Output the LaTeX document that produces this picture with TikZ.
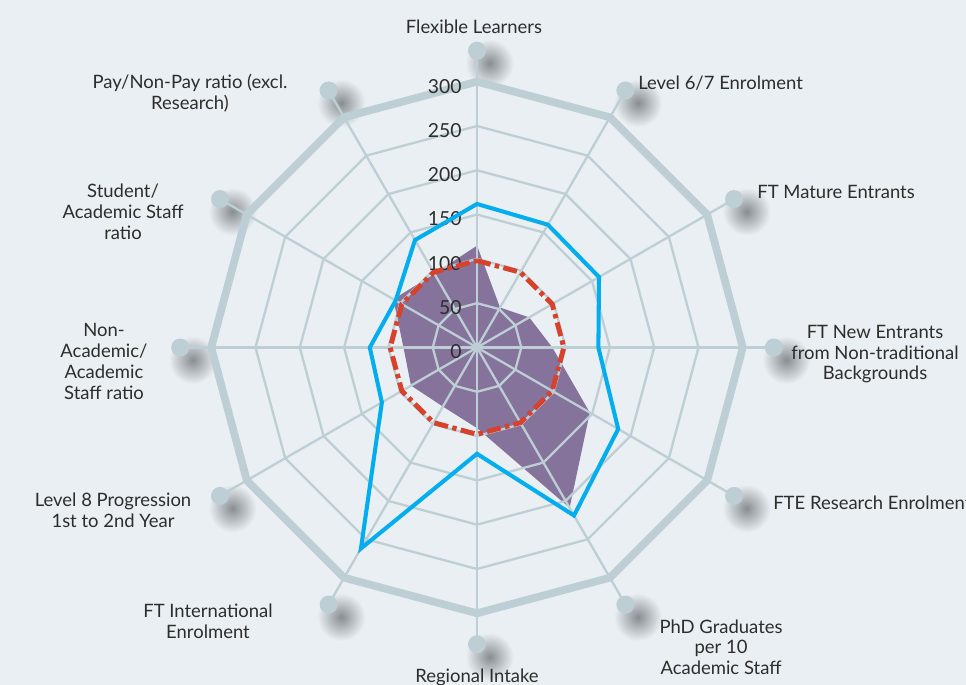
\documentclass[tikz,border=0pt]{standalone}
\usepackage{fontspec}
\setmainfont{Lato}
\usetikzlibrary{calc}
\definecolor{bgcol}{RGB}{233,239,242}
\definecolor{webcol}{RGB}{189,207,213}
\definecolor{shadecol}{RGB}{135,141,145}
\definecolor{txtcol}{RGB}{45,45,45}
\definecolor{bluecol}{RGB}{0,174,239}
\definecolor{purplecol}{RGB}{134,115,156}
\definecolor{redcol}{RGB}{215,66,44}
\begin{document}
\begin{tikzpicture}[x=0.01772cm,y=0.01772cm,line join=miter,
    webline/.style={draw=webcol,line width=1.3pt},
    outerring/.style={draw=webcol,line width=4.4pt},
    ticklbl/.style={anchor=east,text=txtcol,font=\fontsize{11}{13}\selectfont,inner sep=0pt},
    lbl/.style={text=txtcol,align=center,font=\fontsize{10.5}{11.8}\selectfont,inner sep=0pt}]
        % background and picture size
        \path[use as bounding box,fill=bgcol] (-538.4,-380.9) rectangle (551.9,392.2);
        
        % shadows under the end dots
        \foreach \adeg in {0,30,...,330} {
          \shade[inner color=shadecol,outer color=bgcol] ($(\adeg:335)+(0.25cm,-0.25cm)$) circle(0.48cm);
        }
        
        % our institution (filled)
        \fill[purplecol] (90:115) \foreach \adeg/\val in {60/52,30/68,0/85,-30/147,-60/209,-90/91,-120/77,-150/86,180/83,150/109,120/96} { -- (\adeg:\val)} -- cycle;
        
        % the web: rings and spokes
        \foreach \v in {50,100,...,250} {
          \draw[webline] (0:\v) \foreach \adeg in {30,60,...,330} { -- (\adeg:\v)} -- cycle;
        }
        \foreach \adeg in {0,30,...,330} {
          \draw[webline] (0,0) -- (\adeg:335); % spoke out to the dot
        }
        \draw[outerring] (0:300) \foreach \adeg in {30,60,...,330} { -- (\adeg:300)} -- cycle;
        
        % scale numbers on the top spoke
        \foreach \v in {0,50,...,300} {
          \node[ticklbl] (t\v) at (-17,\v-5) {\v};
        }
        
        % sector average (dashed)
        \draw[redcol,line width=2.8pt,dash pattern=on 8pt off 2.5pt on 2.5pt off 2.5pt] (90:98) \foreach \adeg in {60,30,...,-240} { -- (\adeg:98)} -- cycle;
        
        % target line
        \draw[bluecol,line width=2.3pt] (90:162) \foreach \adeg/\val in {60/160,30/159,0/137,-30/184,-60/219,-90/120,-120/262,-150/124,180/121,150/106,120/140} { -- (\adeg:\val)} -- cycle;
        
        % end dots
        \foreach \adeg in {0,30,...,330} {
          \fill[webcol] (\adeg:335) circle(0.18cm);
        }
        
        % axis labels
        \node[lbl] (lflex) at (-3.4,361.7) {Flexible Learners};
        \node[lbl,anchor=west] (llevel) at (181.7,298.5) {Level 6/7 Enrolment};
        \node[lbl,anchor=west] (lmature) at (316,175.5) {FT Mature Entrants};
        \node[lbl] (lnontrad) at (449.2,-7.5) {FT New Entrants\\from Non-traditional\\Backgrounds};
        \node[lbl,anchor=west] (lresearch) at (334,-175.5) {FTE Research Enrolment};
        \node[lbl] (lphd) at (275.4,-338.1) {PhD Graduates\\per 10\\Academic Staff};
        \node[lbl] (lregional) at (0,-371.9) {Regional Intake};
        \node[lbl] (linter) at (-303.6,-308.7) {FT International\\Enrolment};
        \node[lbl] (lprog) at (-410.8,-183.4) {Level 8 Progression\\1st to 2nd Year};
        \node[lbl] (lnonacad) at (-421,-15.8) {Non-\\Academic/\\Academic\\Staff ratio};
        \node[lbl] (lstudent) at (-399.5,152.9) {Student/\\Academic Staff\\ratio};
        \node[lbl] (lpay) at (-323.9,287.2) {Pay/Non-Pay ratio (excl.\\Research)};
      \end{tikzpicture}
\end{document}
